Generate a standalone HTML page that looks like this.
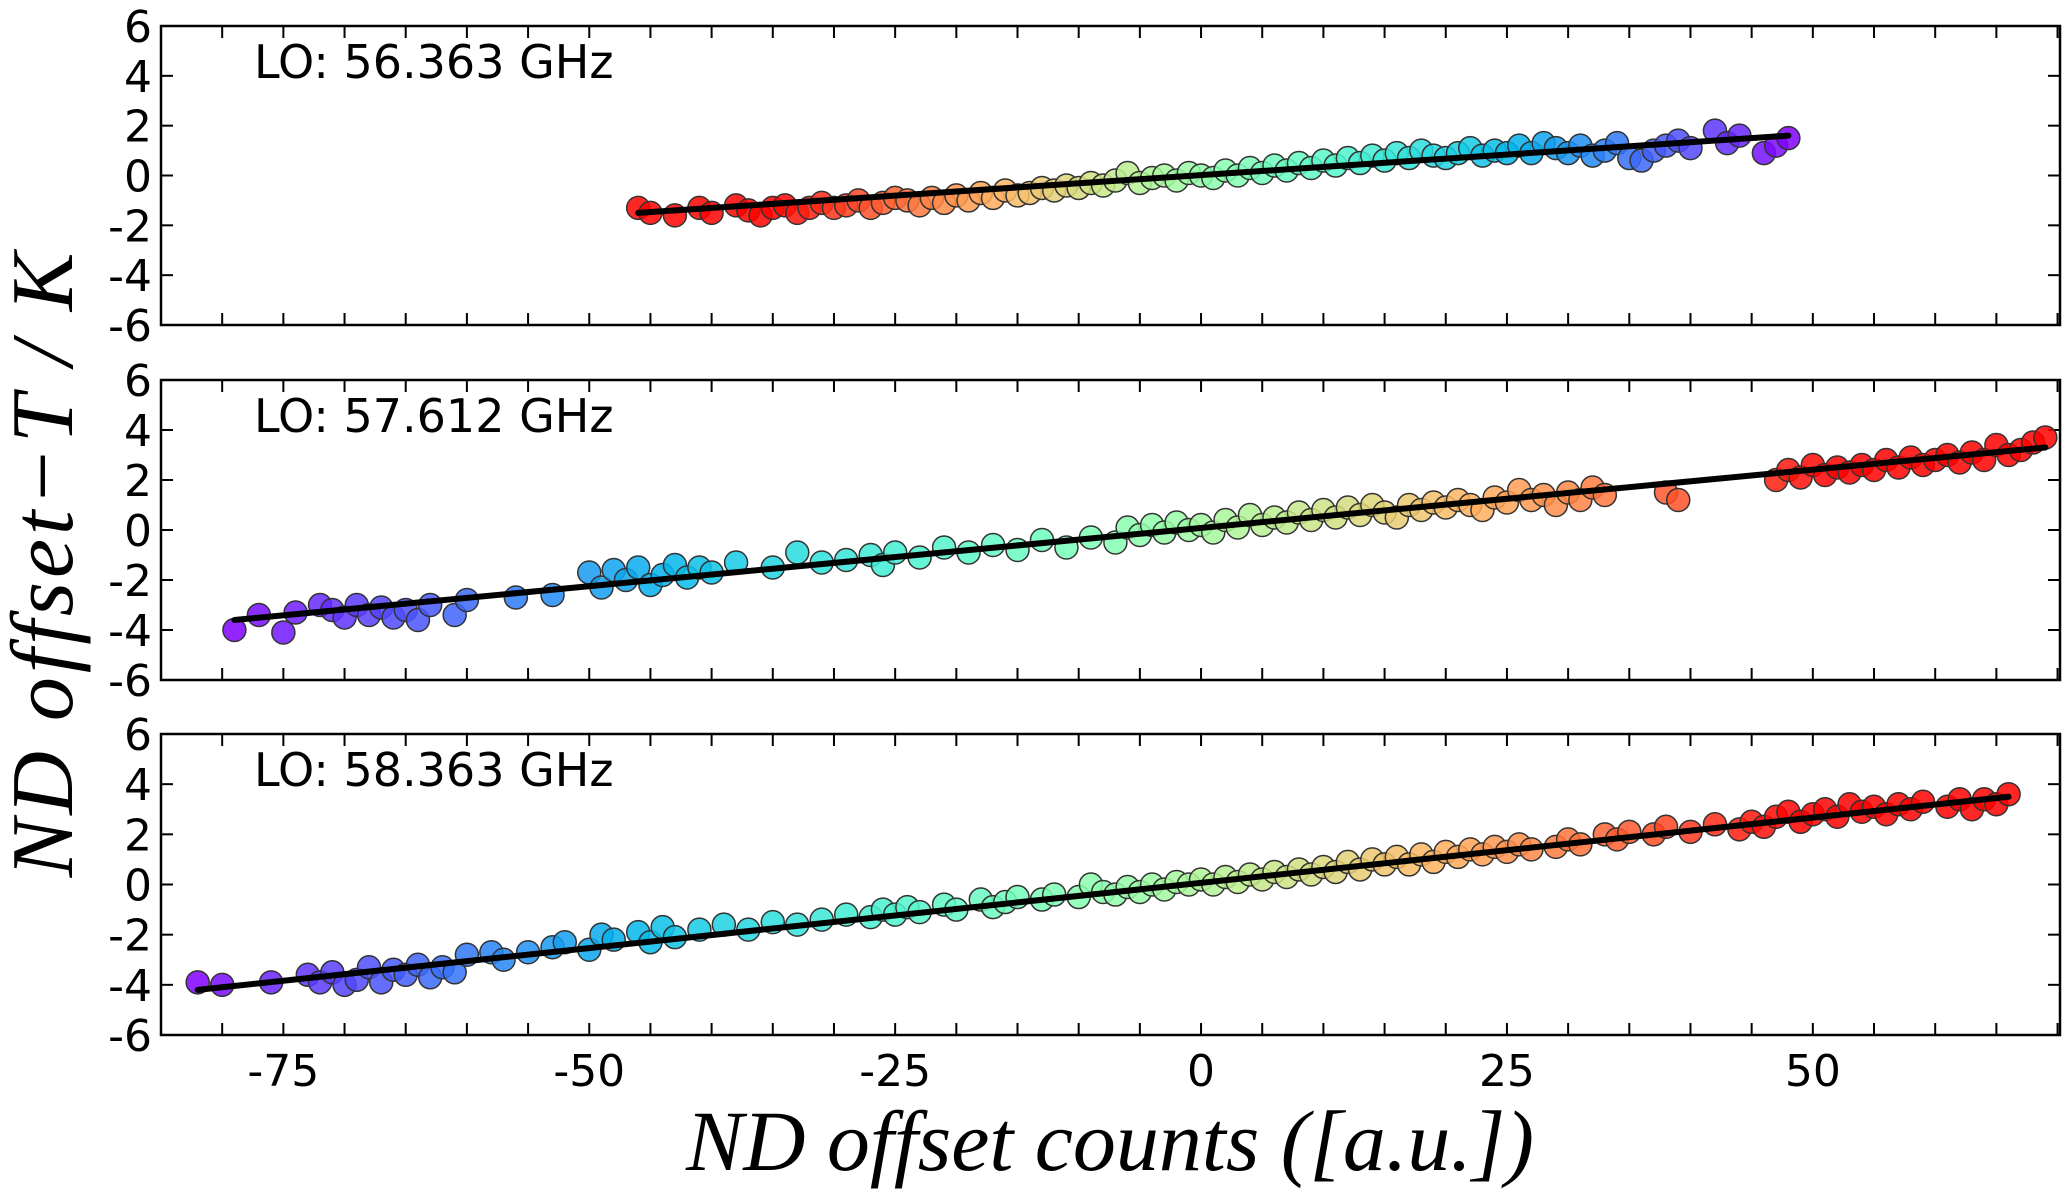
<!DOCTYPE html>
<html><head><meta charset="utf-8"><style>
html,body{margin:0;padding:0;background:#fff;}
svg{display:block;}
text{font-family:"DejaVu Sans","Liberation Sans",sans-serif;}
</style></head><body>
<svg id="chart" width="2067" height="1199" xmlns="http://www.w3.org/2000/svg"></svg>
<script>
const xTicks=[-75,-50,-25,0,25,50];
const xTickLabels=["-75","-50","-25","0","25","50"];
const yTicks=[6,4,2,0,-2,-4,-6];
const yTickLabels=["6","4","2","0","-2","-4","-6"];
const panelLabels=["LO: 56.363 GHz","LO: 57.612 GHz","LO: 58.363 GHz"];

const topX=[-46,-45,-43,-41,-40,-38,-37,-36,-35,-34,-33,-32,-31,-30,-29,-28,-27,-26,-25,-24,-23,-22,-21,-20,-19,-18,-17,-16,-15,-14,-13,-12,-11,-10,-9,-8,-7,-6,-5,-4,-3,-2,-1,0,1,2,3,4,5,6,7,8,9,10,11,12,13,14,15,16,17,18,19,20,21,22,23,24,25,26,27,28,29,30,31,32,33,34,35,36,37,38,39,40,42,43,44,46,47,48];
const topY=[-1.3,-1.5,-1.6,-1.3,-1.5,-1.2,-1.4,-1.6,-1.3,-1.2,-1.5,-1.3,-1.1,-1.3,-1.2,-1.0,-1.3,-1.1,-0.9,-1.0,-1.2,-0.9,-1.1,-0.8,-1.0,-0.7,-0.9,-0.6,-0.8,-0.7,-0.5,-0.6,-0.4,-0.5,-0.3,-0.4,-0.2,0.1,-0.3,-0.1,0.0,-0.2,0.1,0.0,-0.1,0.2,0.0,0.3,0.1,0.4,0.2,0.5,0.3,0.6,0.4,0.7,0.5,0.8,0.6,0.9,0.7,1.0,0.8,0.7,0.9,1.1,0.8,1.0,0.9,1.2,0.9,1.3,1.1,0.9,1.2,0.8,1.0,1.3,0.7,0.6,1.0,1.2,1.4,1.1,1.8,1.3,1.6,0.9,1.2,1.5];
const topFitX=[-46,48];
const topFitY=[-1.5,1.6];

const midX=[-79,-77,-75,-74,-72,-71,-70,-69,-68,-67,-66,-65,-64,-63,-61,-60,-56,-53,-50,-49,-48,-47,-46,-45,-44,-43,-42,-41,-40,-38,-35,-33,-31,-29,-27,-26,-25,-23,-21,-19,-17,-15,-13,-11,-9,-7,-6,-5,-4,-3,-2,-1,0,1,2,3,4,5,6,7,8,9,10,11,12,13,14,15,16,17,18,19,20,21,22,23,24,25,26,27,28,29,30,31,32,33,38,39,47,48,49,50,51,52,53,54,55,56,57,58,59,60,61,62,63,64,65,66,67,68,69];
const midY=[-4.0,-3.4,-4.1,-3.3,-3.0,-3.2,-3.5,-3.0,-3.4,-3.1,-3.5,-3.2,-3.6,-3.0,-3.4,-2.8,-2.7,-2.6,-1.7,-2.3,-1.6,-2.0,-1.5,-2.2,-1.8,-1.4,-1.9,-1.5,-1.7,-1.3,-1.5,-0.9,-1.3,-1.2,-1.0,-1.4,-0.9,-1.1,-0.7,-0.9,-0.6,-0.8,-0.4,-0.7,-0.3,-0.5,0.1,-0.2,0.2,-0.1,0.3,0.0,0.2,-0.1,0.4,0.1,0.6,0.2,0.5,0.3,0.7,0.4,0.8,0.5,0.9,0.6,1.0,0.7,0.5,1.0,0.8,1.1,0.9,1.2,1.0,0.8,1.3,1.1,1.6,1.2,1.4,1.0,1.5,1.2,1.7,1.4,1.5,1.2,2.0,2.4,2.1,2.6,2.2,2.5,2.3,2.6,2.4,2.8,2.5,2.9,2.6,2.8,3.0,2.7,3.1,2.8,3.4,3.0,3.2,3.5,3.7];
const midFitX=[-79,69];
const midFitY=[-3.6,3.3];

const botX=[-82,-80,-76,-73,-72,-71,-70,-69,-68,-67,-66,-65,-64,-63,-62,-61,-60,-58,-57,-55,-53,-52,-50,-49,-48,-46,-45,-44,-43,-41,-39,-37,-35,-33,-31,-29,-27,-26,-25,-24,-23,-21,-20,-18,-17,-16,-15,-13,-12,-10,-9,-8,-7,-6,-5,-4,-3,-2,-1,0,1,2,3,4,5,6,7,8,9,10,11,12,13,14,15,16,17,18,19,20,21,22,23,24,25,26,27,29,30,31,33,34,35,37,38,40,42,44,45,46,47,48,49,50,51,52,53,54,55,56,57,58,59,61,62,63,64,65,66];
const botY=[-3.9,-4.0,-3.9,-3.6,-3.9,-3.5,-4.0,-3.8,-3.3,-3.9,-3.4,-3.6,-3.2,-3.7,-3.3,-3.5,-2.8,-2.7,-3.0,-2.7,-2.5,-2.3,-2.6,-2.0,-2.2,-1.9,-2.3,-1.7,-2.1,-1.8,-1.6,-1.8,-1.5,-1.6,-1.4,-1.2,-1.3,-1.0,-1.2,-0.9,-1.1,-0.8,-1.0,-0.6,-0.9,-0.7,-0.5,-0.6,-0.4,-0.5,0.0,-0.3,-0.4,-0.1,-0.3,0.0,-0.2,0.1,0.0,0.2,0.0,0.3,0.1,0.4,0.2,0.5,0.3,0.6,0.4,0.7,0.5,0.9,0.6,1.0,0.8,1.1,0.8,1.2,0.9,1.3,1.1,1.4,1.2,1.5,1.3,1.6,1.4,1.5,1.8,1.6,2.0,1.8,2.1,2.0,2.3,2.1,2.4,2.2,2.5,2.3,2.7,2.9,2.5,2.8,3.0,2.7,3.2,2.9,3.1,2.8,3.2,3.0,3.3,3.1,3.4,3.0,3.4,3.2,3.6];
const botFitX=[-82,66];
const botFitY=[-4.2,3.5];

const NS="http://www.w3.org/2000/svg";
const svg=document.getElementById('chart');
const L=161,R=2060,XMIN=-85,XMAX=70.2,YMIN=-6,YMAX=6;
const panels=[{top:26,bot:325,x:topX,y:topY,fx:topFitX,fy:topFitY,rev:true,name:'panel-56-363'},
{top:380,bot:680,x:midX,y:midY,fx:midFitX,fy:midFitY,rev:false,name:'panel-57-612'},
{top:734,bot:1035,x:botX,y:botY,fx:botFitX,fy:botFitY,rev:false,name:'panel-58-363'}];
function xs(v){return L+(v-XMIN)/(XMAX-XMIN)*(R-L);}
function mk(tag,attrs,parent){const e=document.createElementNS(NS,tag);for(const k in attrs)e.setAttribute(k,attrs[k]);(parent||svg).appendChild(e);return e;}
function rainbow(t){t=Math.max(0,Math.min(1,t));const r=Math.min(1,Math.abs(2*t-0.5)),g=Math.sin(Math.PI*t),b=Math.cos(Math.PI*t/2);
return `rgb(${Math.round(r*255)},${Math.round(g*255)},${Math.round(b*255)})`;}

panels.forEach((p,pi)=>{
  const ys=v=>p.bot-(v-YMIN)/(YMAX-YMIN)*(p.bot-p.top);
  const g=mk('g',{});
  
  
  for(let v=-85;v<=70;v+=5){
    const X=xs(v);
    mk('line',{x1:X,x2:X,y1:p.bot,y2:p.bot-12,stroke:'#000','stroke-width':2},g);
    mk('line',{x1:X,x2:X,y1:p.top,y2:p.top+12,stroke:'#000','stroke-width':2},g);
  }
  yTicks.forEach((v,i)=>{
    const Y=ys(v);
    mk('line',{x1:L,x2:L+12,y1:Y,y2:Y,stroke:'#000','stroke-width':2},g);
    mk('line',{x1:R,x2:R-12,y1:Y,y2:Y,stroke:'#000','stroke-width':2},g);
    const t=mk('text',{x:152,y:Y+16,'text-anchor':'end','font-size':44,fill:'#000'},g);
    t.textContent=yTickLabels[i];
    
    
  });
  const lab=mk('text',{x:254,y:p.top+52,'font-size':46,fill:'#000'},g);
  lab.textContent=panelLabels[pi];
  
  
  const n=p.x.length;
  const xmin=Math.min(...p.x),xmax=Math.max(...p.x);
  for(let i=0;i<n;i++){
    let t=(p.x[i]-xmin)/(xmax-xmin); if(p.rev)t=1-t;
    t=t<0.5?t*1.05:Math.min(1,0.525+(t-0.5)*1.25);
    const c=mk('circle',{cx:xs(p.x[i]),cy:ys(p.y[i]),r:11.5,fill:rainbow(t),'fill-opacity':0.85,stroke:'#333','stroke-width':1.5},g);
    
    
  }
  const fl=mk('line',{x1:xs(p.fx[0]),y1:ys(p.fy[0]),x2:xs(p.fx[1]),y2:ys(p.fy[1]),stroke:'#000','stroke-width':6,'stroke-linecap':'round'},g);
  
  
  const fr=mk('rect',{x:L,y:p.top,width:R-L,height:p.bot-p.top,fill:'none',stroke:'#000','stroke-width':2.5},g);
  
  
});
xTicks.forEach((v,i)=>{
  const t=mk('text',{x:xs(v),y:1086,'text-anchor':'middle','font-size':44,fill:'#000'});
  t.textContent=xTickLabels[i];
  
  
});
const xt=mk('text',{x:1110,y:1170,'text-anchor':'middle','font-size':86,'font-style':'italic',fill:'#000',style:'font-family:"Liberation Serif",serif'});
xt.textContent='ND offset counts ([a.u.])';


const yt=mk('text',{x:0,y:0,'text-anchor':'middle','font-size':88,'font-style':'italic',fill:'#000',transform:'translate(72,563) rotate(-90)',style:'font-family:"Liberation Serif",serif','letter-spacing':'4'});
yt.textContent='ND offset−T / K';


</script>
</body></html>
